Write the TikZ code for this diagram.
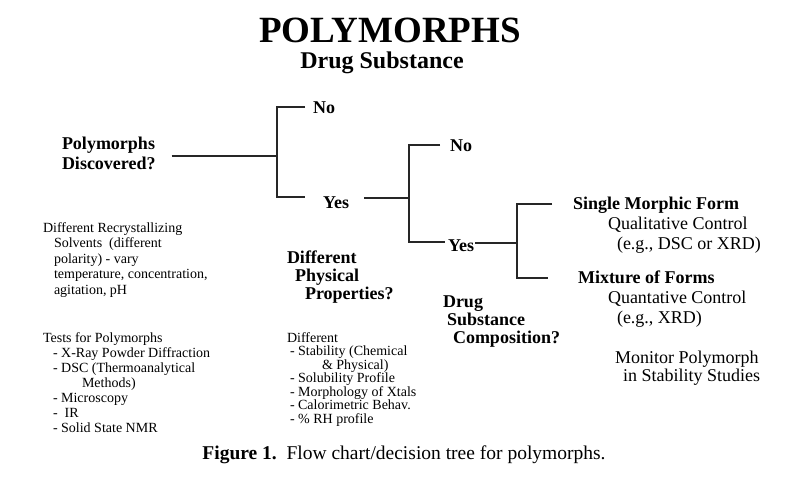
\documentclass[tikz,border=0pt]{standalone}
\usepackage{fontspec}
\setmainfont{Liberation Serif}
\begin{document}
\begin{tikzpicture}[x=1pt,y=-1pt,
  lbl/.style={inner sep=0pt, outer sep=0pt, anchor=base west, align=left},
  bl/.style={lbl, font=\fontsize{18}{20}\selectfont\bfseries},
  bl18/.style={lbl, font=\fontsize{18}{18}\selectfont\bfseries},
  rg/.style={lbl, font=\fontsize{18}{20}\selectfont},
  sm/.style={lbl, font=\fontsize{14}{#1}\selectfont},
  conn/.style={draw=black!85, line width=1.1pt}]
\useasboundingbox[fill=white] (0,0) rectangle (800,477);

% titles
\node[inner sep=0pt, anchor=base, font=\fontsize{37}{40}\selectfont\bfseries] (title) at (390,42) {POLYMORPHS};
\node[inner sep=0pt, anchor=base, font=\fontsize{24}{26}\selectfont\bfseries] (sub) at (382,68) {Drug Substance};

% decision labels (base anchor = baseline of last line)
\node[bl] (disc) at (62,169) {Polymorphs\\Discovered?};
\node[bl] (no1) at (313,113) {No};
\node[bl] (yes1) at (323,208) {Yes};
\node[bl] (no2) at (450,151) {No};
\node[bl] (yes2) at (448,251) {Yes};
\node[bl18] (phys) at (287,299) {Different\\\hspace*{8pt}Physical\\\hspace*{18pt}Properties?};
\node[bl18] (comp) at (443,343) {Drug\\\hspace*{4pt}Substance\\\hspace*{10pt}Composition?};

% right side
\node[rg] (single) at (573,249) {\textbf{Single Morphic Form}\\\hspace*{35pt}Qualitative Control\\\hspace*{44pt}(e.g., DSC or XRD)};
\node[rg] (mix) at (578,323) {\textbf{Mixture of Forms}\\\hspace*{30pt}Quantative Control\\\hspace*{39pt}(e.g., XRD)};
\node[lbl, font=\fontsize{18}{18}\selectfont] (mon) at (615,381) {Monitor Polymorph\\\hspace*{8pt}in Stability Studies};

% left notes
\node[sm=15.5] (recr) at (43,294) {Different Recrystallizing\\\hspace*{11pt}Solvents\ \ (different\\\hspace*{11pt}polarity) - vary\\\hspace*{11pt}temperature, concentration,\\\hspace*{11pt}agitation, pH};
\node[sm=15] (tests) at (43,432) {Tests for Polymorphs\\\hspace*{10pt}- X-Ray Powder Diffraction\\\hspace*{10pt}- DSC (Thermoanalytical\\\hspace*{39pt}Methods)\\\hspace*{10pt}- Microscopy\\\hspace*{10pt}-\ \ IR\\\hspace*{10pt}- Solid State NMR};
\node[sm=13.5] (props) at (287,423) {Different\\\hspace*{3pt}- Stability (Chemical\\\hspace*{35pt}\& Physical)\\\hspace*{3pt}- Solubility Profile\\\hspace*{3pt}- Morphology of Xtals\\\hspace*{3pt}- Calorimetric Behav.\\\hspace*{3pt}- \% RH profile};

% caption
\node[inner sep=0pt, anchor=base, font=\fontsize{19.5}{21}\selectfont] (cap) at (404,459) {\textbf{Figure 1.}\ \ Flow chart/decision tree for polymorphs.};

% connectors
\coordinate (j1) at (277,156);
\coordinate (n1) at (305,107);
\coordinate (y1) at (305,197);
\coordinate (j2) at (409,198);
\coordinate (n2) at (440,145);
\coordinate (y2) at (445,242);
\coordinate (j3) at (517,243);
\coordinate (s1) at (552,204);
\coordinate (m1) at (548,278);

\draw[conn, shorten <=16pt] (disc.east |- j1) -- (j1);
\draw[conn] (n1) -| (j1) |- (y1);
\draw[conn, shorten <=15pt] (yes1.east |- j2) -- (j2);
\draw[conn] (n2) -| (j2) |- (y2);
\draw[conn, shorten <=1pt] (yes2.east |- j3) -- (j3);
\draw[conn] (s1) -| (j3) |- (m1);
\end{tikzpicture}
\end{document}
